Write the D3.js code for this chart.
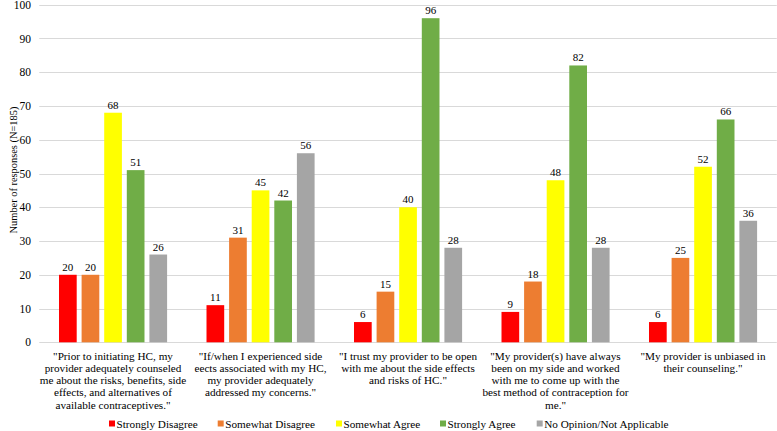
<!DOCTYPE html>
<html><head><meta charset="utf-8">
<script src="https://cdn.jsdelivr.net/npm/d3@7"></script>
<style>body{margin:0;background:#fff}svg{display:block}text{font-family:"Liberation Serif","Times New Roman",serif;fill:#000}</style>
</head><body>
<script>
const categories = [
  ["\"Prior to initiating HC, my","provider adequately counseled","me about the risks, benefits, side","effects, and alternatives of","available contraceptives.\""],
  ["\"If/when I experienced side","eects associated with my HC,","my provider adequately","addressed my concerns.\""],
  ["\"I trust my provider to be open","with me about the side effects","and risks of HC.\""],
  ["\"My provider(s) have always","been on my side and worked","with me to come up with the","best method of contraception for","me.\""],
  ["\"My provider is unbiased in","their counseling.\""]
];
const seriesNames = ["Strongly Disagree","Somewhat Disagree","Somewhat Agree","Strongly Agree","No Opinion/Not Applicable"];
const seriesColors = ["#FF0000","#ED7D31","#FFFF00","#70AD47","#A5A5A5"];
const stronglyDisagree = [20,11,6,9,6];
const somewhatDisagree = [20,31,15,18,25];
const somewhatAgree = [68,45,40,48,52];
const stronglyAgree = [51,42,96,82,66];
const noOpinion = [26,56,28,28,36];
const yTicks = [0,10,20,30,40,50,60,70,80,90,100];
const yLabel = "Number of responses (N=185)";

const values = [stronglyDisagree, somewhatDisagree, somewhatAgree, stronglyAgree, noOpinion];
const W = 777, H = 431;
const svg = d3.select("body").append("svg").attr("width", W).attr("height", H);

const x0 = d3.scaleBand().domain(d3.range(categories.length)).range([39.25, 776.75]).padding(0);
const x1 = d3.scaleBand().domain(d3.range(seriesNames.length)).range([17.3, 130.3]).paddingInner(0.217).paddingOuter(0.1085);
const y = d3.scaleLinear().domain([0, 100]).range([342.3, 4.7]);

// gridlines
svg.append("g").selectAll("line").data(yTicks).join("line")
  .attr("x1", 39.25).attr("x2", 776.75)
  .attr("y1", d => Math.round(y(d)) + 0.5).attr("y2", d => Math.round(y(d)) + 0.5)
  .attr("stroke", "#D9D9D9").attr("stroke-width", 1);

// y axis labels
const yAxis = d3.axisLeft(y).tickValues(yTicks).tickSize(0).tickPadding(0);
const ga = svg.append("g").attr("transform", "translate(31,0)").call(yAxis);
ga.select(".domain").remove();
ga.attr("font-family", null);
ga.selectAll("text").style("font-family", "'Liberation Serif', serif").attr("font-size", "11.5px").attr("fill", "#000");

// y title
svg.append("text").attr("transform", `translate(13,170) rotate(-90)`)
  .attr("text-anchor", "middle").attr("dominant-baseline", "central")
  .attr("font-size", "10.4px").text(yLabel);

// bars
const groups = svg.append("g").selectAll("g").data(categories).join("g")
  .attr("transform", (d, i) => `translate(${x0(i)},0)`);
groups.each(function(c, ci) {
  const g = d3.select(this);
  seriesNames.forEach((s, si) => {
    const v = values[si][ci];
    g.append("rect").attr("x", x1(si)).attr("width", x1.bandwidth())
      .attr("y", y(v)).attr("height", y(0) - y(v))
      .attr("fill", seriesColors[si]);
    g.append("text").attr("x", x1(si) + x1.bandwidth() / 2).attr("y", y(v) - 4)
      .attr("text-anchor", "middle").attr("font-size", "11px").text(v);
  });
  const t = g.append("text").attr("text-anchor", "middle").attr("font-size", "11.2px");
  c.forEach((line, li) => {
    t.append("tspan").attr("x", x0.bandwidth() / 2).attr("y", 359.5 + li * 12.3).text(line);
  });
});

// legend
const legendX = [109, 217.7, 336, 440, 536.7];
const lg = svg.append("g").selectAll("g").data(seriesNames).join("g")
  .attr("transform", (d, i) => `translate(${legendX[i]},424)`);
lg.append("rect").attr("x", 0).attr("y", -3.5).attr("width", 6).attr("height", 6).attr("fill", (d, i) => seriesColors[i]);
lg.append("text").attr("x", 7.5).attr("y", 0).attr("dominant-baseline", "central").attr("font-size", "11.2px").text(d => d);
</script>
</body></html>
